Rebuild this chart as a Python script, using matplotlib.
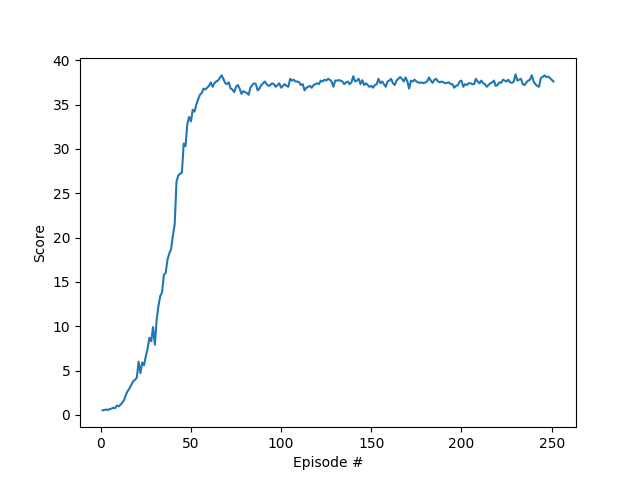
import numpy as np
import matplotlib
matplotlib.use('Agg')
import matplotlib.pyplot as plt

# Рост обучения (эпизоды 1-65)
scores_rise = [
    0.50, 0.55, 0.60, 0.55, 0.65, 0.70, 0.80, 0.75, 1.05, 0.95,
    1.15, 1.40, 1.70, 2.30, 2.70, 3.00, 3.40, 3.80, 3.95, 4.20,
    6.00, 4.70, 5.90, 5.60, 6.60, 7.50, 8.70, 8.30, 9.90, 7.90,
    10.7, 12.3, 13.4, 13.8, 15.8, 16.0, 17.5, 18.2, 18.7, 20.2,
    21.5, 26.3, 27.0, 27.2, 27.3, 30.6, 30.3, 32.8, 33.6, 33.1,
    34.4, 34.2, 35.0, 35.6, 36.1, 36.3, 36.8, 36.7, 36.9, 37.1,
    37.5, 37.0, 37.4, 37.6, 37.7,
]

# Плато (эпизоды 66-130)
scores_plateau_1 = [
    38.0, 38.3, 37.9, 37.4, 37.3, 37.5, 36.8, 36.7, 36.4, 37.0,
    37.2, 36.8, 36.2, 36.5, 36.4, 36.3, 36.1, 36.9, 37.2, 37.4,
    37.3, 36.6, 36.8, 37.2, 37.4, 37.6, 37.3, 37.1, 37.2, 37.4,
    37.3, 37.0, 37.2, 37.4, 36.9, 37.1, 37.3, 37.1, 37.0, 37.9,
    37.7, 37.8, 37.6, 37.6, 37.5, 37.2, 37.3, 36.6, 36.9, 37.0,
    37.1, 36.9, 37.2, 37.3, 37.4, 37.3, 37.7, 37.6, 37.8, 37.7,
    37.9, 37.8, 37.6, 37.0, 37.7,
]

# Плато (эпизоды 131-193)
scores_plateau_2 = [
    37.7, 37.75, 37.7, 37.6, 37.3, 37.5, 37.6, 37.3, 37.5, 38.2,
    37.6, 37.7, 37.9, 37.3, 37.75, 37.2, 37.4, 37.2, 37.0, 37.1,
    36.9, 37.2, 37.3, 37.9, 37.4, 37.6, 37.3, 37.0, 37.6, 37.7,
    37.9, 37.4, 37.2, 37.7, 37.9, 38.1, 37.9, 37.6, 38.05, 37.6,
    36.8, 37.7, 37.6, 37.8, 37.6, 37.5, 37.45, 37.5, 37.4, 37.5,
    37.6, 38.05, 37.7, 37.45, 37.8, 37.9, 37.6, 37.5, 37.6, 37.5,
    37.4, 37.45, 37.5,
]

# Плато (эпизоды 194-251)
scores_plateau_3 = [
    37.3, 37.3, 36.9, 37.1, 37.2, 37.6, 37.7, 37.0, 37.3, 37.2,
    37.4, 37.4, 37.3, 37.3, 37.9, 37.6, 37.4, 37.7, 37.4, 37.3,
    37.0, 37.2, 37.4, 37.5, 37.7, 37.1, 37.2, 37.5, 37.45, 37.8,
    37.7, 37.6, 37.8, 37.5, 37.45, 37.6, 38.4, 37.7, 37.8, 37.9,
    37.3, 37.2, 37.5, 37.7, 37.8, 38.3, 37.6, 37.3, 37.1, 37.0,
    38.0, 38.1, 38.3, 38.1, 38.15, 38.0, 37.8, 37.6,
]

scores = scores_rise + scores_plateau_1 + scores_plateau_2 + scores_plateau_3
episodes = np.arange(1, len(scores) + 1)

fig = plt.figure(figsize=(6.4, 4.8), dpi=100)
ax = fig.add_subplot(111)
plt.plot(episodes, scores)
plt.ylabel('Score')
plt.xlabel('Episode #')
plt.savefig('out.png')
